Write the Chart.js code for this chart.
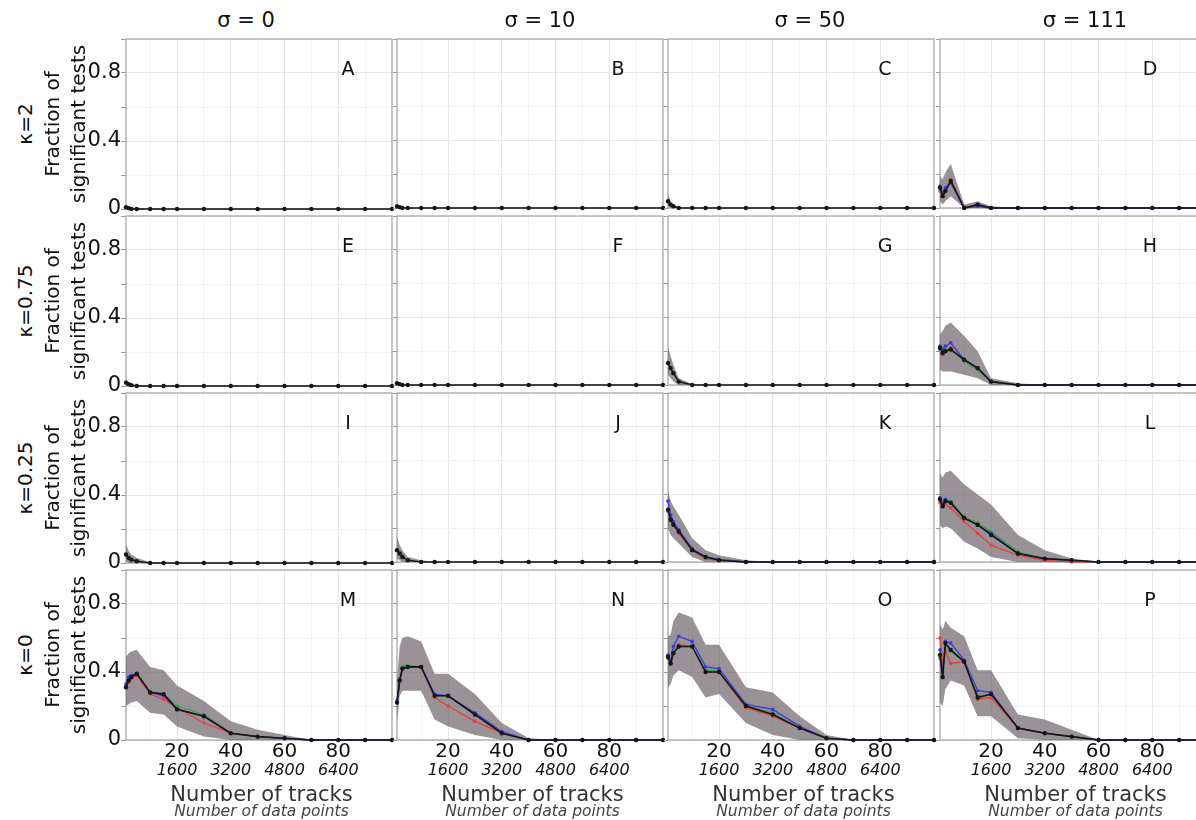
<!DOCTYPE html>
<html>
<head>
<meta charset="utf-8">
<script src="https://cdn.jsdelivr.net/npm/chart.js@4.4.1/dist/chart.umd.min.js"></script>
<style>
  html, body { margin: 0; padding: 0; background: #fff; }
  body { width: 1196px; height: 820px; overflow: hidden; position: relative; font-family: 'DejaVu Sans', sans-serif; color: #111; }
  canvas { position: absolute; }
  .lbl { position: absolute; white-space: nowrap; transform: translate(-50%, -50%); }
  .rot { transform: translate(-50%, -50%) rotate(-90deg); text-align: center; }
</style>
</head>
<body>
<script>
// x values (number of tracks) and tick labels
const tracks = [1, 2, 3, 5, 10, 15, 20, 30, 40, 50, 60, 70, 80, 90, 100];
const trackTicks = [20, 40, 60, 80];
const pointsTicks = [1600, 3200, 4800, 6400];
const fractionTicks = [0, 0.4, 0.8];
const sigmaLabels = ['σ = 0', 'σ = 10', 'σ = 50', 'σ = 111'];
const kappaLabels = ['κ=2', 'κ=0.75', 'κ=0.25', 'κ=0'];
const panelLetters = ['A','B','C','D','E','F','G','H','I','J','K','L','M','N','O','P'];

// fraction of significant tests, per panel: mean lines and band limits
const zero  = [0, 0, 0, 0, 0, 0, 0, 0, 0, 0, 0, 0, 0, 0, 0];

const meanA = [0.01, 0.005, 0, 0, 0, 0, 0, 0, 0, 0, 0, 0, 0, 0, 0];
const hiA   = [0.02, 0.015, 0.01, 0.005, 0, 0, 0, 0, 0, 0, 0, 0, 0, 0, 0];
const meanB = [0.01, 0.005, 0, 0, 0, 0, 0, 0, 0, 0, 0, 0, 0, 0, 0];
const hiB   = [0.02, 0.01, 0.005, 0, 0, 0, 0, 0, 0, 0, 0, 0, 0, 0, 0];
const meanC = [0.04, 0.02, 0.01, 0, 0, 0, 0, 0, 0, 0, 0, 0, 0, 0, 0];
const loC   = [0.01, 0, 0, 0, 0, 0, 0, 0, 0, 0, 0, 0, 0, 0, 0];
const hiC   = [0.08, 0.04, 0.02, 0.005, 0, 0, 0, 0, 0, 0, 0, 0, 0, 0, 0];
const meanD = [0.12, 0.07, 0.10, 0.16, 0, 0.02, 0, 0, 0, 0, 0, 0, 0, 0, 0];
const redD  = [0.10, 0.08, 0.11, 0.17, 0, 0.02, 0, 0, 0, 0, 0, 0, 0, 0, 0];
const grnD  = [0.12, 0.08, 0.10, 0.16, 0, 0.01, 0, 0, 0, 0, 0, 0, 0, 0, 0];
const bluD  = [0.13, 0.09, 0.12, 0.15, 0, 0.01, 0, 0, 0, 0, 0, 0, 0, 0, 0];
const loD   = [0.04, 0.02, 0.04, 0.07, 0, 0, 0, 0, 0, 0, 0, 0, 0, 0, 0];
const hiD   = [0.19, 0.17, 0.21, 0.26, 0.02, 0.04, 0.01, 0, 0, 0, 0, 0, 0, 0, 0];

const meanE = [0.02, 0.01, 0.005, 0, 0, 0, 0, 0, 0, 0, 0, 0, 0, 0, 0];
const hiE   = [0.04, 0.02, 0.01, 0.005, 0, 0, 0, 0, 0, 0, 0, 0, 0, 0, 0];
const meanF = [0.01, 0.005, 0, 0, 0, 0, 0, 0, 0, 0, 0, 0, 0, 0, 0];
const hiF   = [0.02, 0.01, 0.005, 0, 0, 0, 0, 0, 0, 0, 0, 0, 0, 0, 0];
const meanG = [0.13, 0.10, 0.07, 0.02, 0, 0, 0, 0, 0, 0, 0, 0, 0, 0, 0];
const loG   = [0.06, 0.04, 0.02, 0, 0, 0, 0, 0, 0, 0, 0, 0, 0, 0, 0];
const hiG   = [0.22, 0.17, 0.12, 0.04, 0.005, 0, 0, 0, 0, 0, 0, 0, 0, 0, 0];
const meanH = [0.22, 0.19, 0.20, 0.21, 0.15, 0.10, 0.02, 0, 0, 0, 0, 0, 0, 0, 0];
const redH  = [0.21, 0.18, 0.20, 0.22, 0.14, 0.10, 0.02, 0, 0, 0, 0, 0, 0, 0, 0];
const grnH  = [0.21, 0.20, 0.21, 0.21, 0.14, 0.09, 0.02, 0, 0, 0, 0, 0, 0, 0, 0];
const bluH  = [0.23, 0.21, 0.23, 0.25, 0.15, 0.10, 0.02, 0, 0, 0, 0, 0, 0, 0, 0];
const loH   = [0.09, 0.08, 0.08, 0.08, 0.06, 0.04, 0, 0, 0, 0, 0, 0, 0, 0, 0];
const hiH   = [0.30, 0.32, 0.35, 0.37, 0.29, 0.20, 0.04, 0.01, 0, 0, 0, 0, 0, 0, 0];

const meanI = [0.05, 0.03, 0.02, 0.01, 0, 0, 0, 0, 0, 0, 0, 0, 0, 0, 0];
const loI   = [0.01, 0, 0, 0, 0, 0, 0, 0, 0, 0, 0, 0, 0, 0, 0];
const hiI   = [0.11, 0.07, 0.05, 0.03, 0.005, 0, 0, 0, 0, 0, 0, 0, 0, 0, 0];
const meanJ = [0.07, 0.05, 0.03, 0.01, 0, 0, 0, 0, 0, 0, 0, 0, 0, 0, 0];
const loJ   = [0.02, 0.01, 0, 0, 0, 0, 0, 0, 0, 0, 0, 0, 0, 0, 0];
const hiJ   = [0.15, 0.10, 0.07, 0.03, 0.01, 0, 0, 0, 0, 0, 0, 0, 0, 0, 0];
const meanK = [0.31, 0.25, 0.22, 0.18, 0.07, 0.03, 0.01, 0, 0, 0, 0, 0, 0, 0, 0];
const redK  = [0.30, 0.25, 0.22, 0.17, 0.07, 0.02, 0.01, 0, 0, 0, 0, 0, 0, 0, 0];
const grnK  = [0.31, 0.26, 0.23, 0.18, 0.08, 0.03, 0.01, 0, 0, 0, 0, 0, 0, 0, 0];
const bluK  = [0.36, 0.28, 0.24, 0.19, 0.08, 0.03, 0.015, 0, 0, 0, 0, 0, 0, 0, 0];
const loK   = [0.20, 0.16, 0.14, 0.11, 0.03, 0, 0, 0, 0, 0, 0, 0, 0, 0, 0];
const hiK   = [0.42, 0.36, 0.33, 0.28, 0.14, 0.07, 0.04, 0.01, 0, 0, 0, 0, 0, 0, 0];
const meanL = [0.37, 0.33, 0.36, 0.35, 0.26, 0.22, 0.16, 0.05, 0.02, 0.01, 0, 0, 0, 0, 0];
const redL  = [0.35, 0.33, 0.34, 0.32, 0.24, 0.17, 0.10, 0.04, 0.01, 0, 0, 0, 0, 0, 0];
const grnL  = [0.38, 0.35, 0.37, 0.36, 0.27, 0.23, 0.18, 0.06, 0.02, 0.01, 0, 0, 0, 0, 0];
const bluL  = [0.38, 0.34, 0.37, 0.35, 0.26, 0.22, 0.17, 0.05, 0.02, 0.01, 0, 0, 0, 0, 0];
const loL   = [0.22, 0.20, 0.21, 0.20, 0.12, 0.08, 0.03, 0, 0, 0, 0, 0, 0, 0, 0];
const hiL   = [0.52, 0.50, 0.53, 0.54, 0.46, 0.40, 0.34, 0.16, 0.07, 0.02, 0, 0, 0, 0, 0];

const meanM = [0.31, 0.35, 0.37, 0.39, 0.28, 0.27, 0.18, 0.14, 0.04, 0.02, 0.01, 0, 0, 0, 0];
const redM  = [0.31, 0.34, 0.36, 0.38, 0.27, 0.24, 0.19, 0.10, 0.04, 0.02, 0.01, 0, 0, 0, 0];
const grnM  = [0.32, 0.35, 0.37, 0.39, 0.28, 0.27, 0.20, 0.15, 0.04, 0.02, 0.01, 0, 0, 0, 0];
const bluM  = [0.33, 0.37, 0.38, 0.39, 0.28, 0.26, 0.18, 0.14, 0.04, 0.02, 0.01, 0, 0, 0, 0];
const loM   = [0.20, 0.21, 0.22, 0.23, 0.16, 0.15, 0.08, 0.02, 0, 0, 0, 0, 0, 0, 0];
const hiM   = [0.49, 0.51, 0.52, 0.53, 0.43, 0.41, 0.32, 0.23, 0.11, 0.06, 0.03, 0, 0, 0, 0];
const meanN = [0.22, 0.35, 0.42, 0.43, 0.43, 0.26, 0.26, 0.15, 0.04, 0, 0, 0, 0, 0, 0];
const redN  = [0.22, 0.35, 0.43, 0.43, 0.43, 0.25, 0.20, 0.11, 0.04, 0, 0, 0, 0, 0, 0];
const grnN  = [0.22, 0.36, 0.43, 0.44, 0.43, 0.26, 0.26, 0.15, 0.04, 0, 0, 0, 0, 0, 0];
const bluN  = [0.23, 0.35, 0.42, 0.43, 0.43, 0.27, 0.26, 0.16, 0.05, 0, 0, 0, 0, 0, 0];
const loN   = [0.10, 0.26, 0.29, 0.29, 0.29, 0.12, 0.08, 0.03, 0, 0, 0, 0, 0, 0, 0];
const hiN   = [0.35, 0.55, 0.60, 0.61, 0.58, 0.39, 0.39, 0.27, 0.10, 0.01, 0, 0, 0, 0, 0];
const meanO = [0.49, 0.45, 0.51, 0.55, 0.55, 0.40, 0.40, 0.20, 0.15, 0.07, 0.01, 0, 0, 0, 0];
const redO  = [0.48, 0.46, 0.52, 0.56, 0.55, 0.40, 0.40, 0.19, 0.14, 0.07, 0.01, 0, 0, 0, 0];
const grnO  = [0.49, 0.46, 0.52, 0.55, 0.55, 0.41, 0.41, 0.20, 0.16, 0.07, 0.01, 0, 0, 0, 0];
const bluO  = [0.50, 0.47, 0.55, 0.61, 0.58, 0.43, 0.42, 0.21, 0.18, 0.08, 0.01, 0, 0, 0, 0];
const loO   = [0.31, 0.33, 0.38, 0.41, 0.37, 0.25, 0.27, 0.10, 0.03, 0, 0, 0, 0, 0, 0];
const hiO   = [0.61, 0.62, 0.70, 0.75, 0.72, 0.56, 0.56, 0.31, 0.28, 0.14, 0.03, 0, 0, 0, 0];
const meanP = [0.50, 0.37, 0.57, 0.53, 0.46, 0.25, 0.27, 0.07, 0.04, 0.02, 0, 0, 0, 0, 0];
const redP  = [0.60, 0.45, 0.52, 0.45, 0.46, 0.24, 0.25, 0.07, 0.04, 0.02, 0, 0, 0, 0, 0];
const grnP  = [0.48, 0.40, 0.55, 0.52, 0.46, 0.26, 0.27, 0.07, 0.04, 0.02, 0, 0, 0, 0, 0];
const bluP  = [0.53, 0.40, 0.58, 0.57, 0.47, 0.29, 0.28, 0.07, 0.04, 0.02, 0, 0, 0, 0, 0];
const loP   = [0.22, 0.20, 0.30, 0.35, 0.32, 0.14, 0.14, 0.01, 0, 0, 0, 0, 0, 0, 0];
const hiP   = [0.68, 0.65, 0.70, 0.66, 0.61, 0.41, 0.41, 0.15, 0.12, 0.06, 0, 0, 0, 0, 0];

// rows = kappa, columns = sigma
const panels = [
  { mean: meanA, lo: zero, hi: hiA },
  { mean: meanB, lo: zero, hi: hiB },
  { mean: meanC, lo: loC, hi: hiC },
  { mean: meanD, red: redD, green: grnD, blue: bluD, lo: loD, hi: hiD },
  { mean: meanE, lo: zero, hi: hiE },
  { mean: meanF, lo: zero, hi: hiF },
  { mean: meanG, lo: loG, hi: hiG },
  { mean: meanH, red: redH, green: grnH, blue: bluH, lo: loH, hi: hiH },
  { mean: meanI, lo: loI, hi: hiI },
  { mean: meanJ, lo: loJ, hi: hiJ },
  { mean: meanK, red: redK, green: grnK, blue: bluK, lo: loK, hi: hiK },
  { mean: meanL, red: redL, green: grnL, blue: bluL, lo: loL, hi: hiL },
  { mean: meanM, red: redM, green: grnM, blue: bluM, lo: loM, hi: hiM },
  { mean: meanN, red: redN, green: grnN, blue: bluN, lo: loN, hi: hiN },
  { mean: meanO, red: redO, green: grnO, blue: bluO, lo: loO, hi: hiO },
  { mean: meanP, red: redP, green: grnP, blue: bluP, lo: loP, hi: hiP }
];

const colLeft = [126, 397, 668, 940];
const rowTop = [38, 215, 392, 569];
const plotW = 267, plotH = 171;
const letterDx = [222, 221, 217, 210];

Chart.defaults.font.family = "'DejaVu Sans', sans-serif";
Chart.defaults.color = '#111';

const toXY = arr => tracks.map((t, i) => ({ x: t, y: arr[i] }));

const panelBorder = {
  id: 'panelBorder',
  beforeDatasetsDraw(chart) {
    const { ctx, chartArea: a } = chart;
    ctx.save();
    ctx.strokeStyle = '#a8a8a8';
    ctx.lineWidth = 1.3;
    ctx.strokeRect(a.left, a.top, a.right - a.left, a.bottom - a.top);
    ctx.restore();
  }
};

function lineSet(arr, color, width, radius, order) {
  return {
    data: toXY(arr), borderColor: color, backgroundColor: color,
    borderWidth: width, pointRadius: radius, pointBorderWidth: 0,
    fill: false, order: order, clip: 3, tension: 0
  };
}

function addLabel(text, x, y, css, rotated) {
  const d = document.createElement('div');
  d.className = 'lbl' + (rotated ? ' rot' : '');
  d.style.left = x + 'px';
  d.style.top = y + 'px';
  d.style.cssText += css;
  d.innerHTML = text;
  document.body.appendChild(d);
}

panels.forEach((p, k) => {
  const r = Math.floor(k / 4), c = k % 4;
  const bottomRow = r === 3;
  const padL = c === 0 ? 48 : 5;
  const padB = bottomRow ? 3 : (c === 0 ? 14 : 3);
  const xH = bottomRow ? 21 : 0;
  const x2H = bottomRow ? 24 : 0;

  const cv = document.createElement('canvas');
  cv.width = padL + plotW + 3;
  cv.height = 3 + plotH + xH + x2H + padB;
  cv.style.left = (colLeft[c] - padL) + 'px';
  cv.style.top = (rowTop[r] - 3) + 'px';
  document.body.appendChild(cv);

  const datasets = [
    lineSet(p.mean, '#161616', 1.6, 2.2, 0)
  ];
  if (p.blue) datasets.push(lineSet(p.blue, '#3a3ae0', 1.3, 1.8, 1));
  if (p.green) datasets.push(lineSet(p.green, '#3aa54a', 1.3, 1.8, 2));
  if (p.red) datasets.push(lineSet(p.red, '#e6403c', 1.3, 1.8, 3));
  // shaded band between lower and upper limits
  datasets.push({ data: toXY(p.lo), borderWidth: 0, pointRadius: 0, fill: false, order: 10 });
  datasets.push({ data: toXY(p.hi), borderWidth: 0, pointRadius: 0, fill: '-1',
                  backgroundColor: 'rgba(110,100,106,0.7)', order: 11 });

  new Chart(cv, {
    type: 'line',
    data: { datasets },
    options: {
      responsive: false,
      animation: false,
      events: [],
      layout: { padding: { left: 0, right: 3, top: 3, bottom: padB } },
      plugins: { legend: { display: false }, tooltip: { enabled: false } },
      scales: {
        x: {
          type: 'linear', min: 1, max: 100, weight: 0,
          border: { display: false },
          grid: {
            drawTicks: false,
            color: ctx => ctx.tick && ctx.tick.value % 20 === 0 ? '#e6e6e6' : '#f2f2f2'
          },
          ticks: {
            display: bottomRow, padding: 0, autoSkip: false, maxRotation: 0,
            font: { size: 20 }, color: '#111',
            callback: v => trackTicks.includes(v) ? String(v) : ''
          },
          afterBuildTicks: s => {
            const t = [];
            for (let v = 10; v < 100; v += 10) t.push({ value: v });
            s.ticks = t;
          },
          afterFit: s => { s.height = xH; s.paddingLeft = 0; s.paddingRight = 0; }
        },
        x2: {
          type: 'linear', min: 1, max: 100, weight: 1, position: 'bottom',
          display: bottomRow,
          border: { display: false },
          grid: { display: false, drawTicks: false },
          ticks: {
            padding: 0, autoSkip: false, maxRotation: 0,
            font: { size: 16, style: 'italic' }, color: '#111',
            callback: v => String(pointsTicks[trackTicks.indexOf(v)])
          },
          afterBuildTicks: s => { s.ticks = trackTicks.map(v => ({ value: v })); },
          afterFit: s => { s.height = x2H; s.paddingLeft = 0; s.paddingRight = 0; }
        },
        y: {
          min: 0, max: 1,
          border: { display: false },
          grid: {
            drawTicks: true, tickLength: c === 0 ? 5 : 4, tickColor: '#9a9a9a',
            color: ctx => ctx.tick && fractionTicks.some(f => Math.abs(f - ctx.tick.value) < 1e-9) ? '#e6e6e6' : '#f2f2f2'
          },
          ticks: {
            display: c === 0, padding: 0, autoSkip: false,
            font: { size: 21 }, color: '#111',
            callback: v => fractionTicks.some(f => Math.abs(f - v) < 1e-9) ? String(v) : ''
          },
          afterBuildTicks: s => {
            const t = [];
            for (let i = 0; i <= 5; i++) t.push({ value: i / 5 });
            s.ticks = t;
          },
          afterFit: s => { s.width = padL; s.paddingTop = 0; s.paddingBottom = 0; }
        }
      }
    },
    plugins: [panelBorder]
  });

  addLabel(panelLetters[k], colLeft[c] + letterDx[c], rowTop[r] + 30, 'font-size:19px;');
});

// facet strips and axis titles
const sigmaX = [246, 540, 810, 1085];
sigmaLabels.forEach((s, c) => addLabel(s, sigmaX[c], 20, 'font-size:21px;'));
kappaLabels.forEach((s, r) => {
  const cy = rowTop[r] + plotH / 2;
  addLabel(s, 25, cy, 'font-size:20px;', true);
  addLabel('Fraction of<br>significant tests', 65, cy, 'font-size:20px;line-height:26px;', true);
});
colLeft.forEach(x => {
  const cx = x + plotW / 2 + 2;
  addLabel('Number of tracks', cx, 794, 'font-size:21px;color:#333;');
  addLabel('Number of data points', cx, 811, 'font-size:15.5px;font-style:italic;color:#444;');
});
</script>
</body>
</html>
